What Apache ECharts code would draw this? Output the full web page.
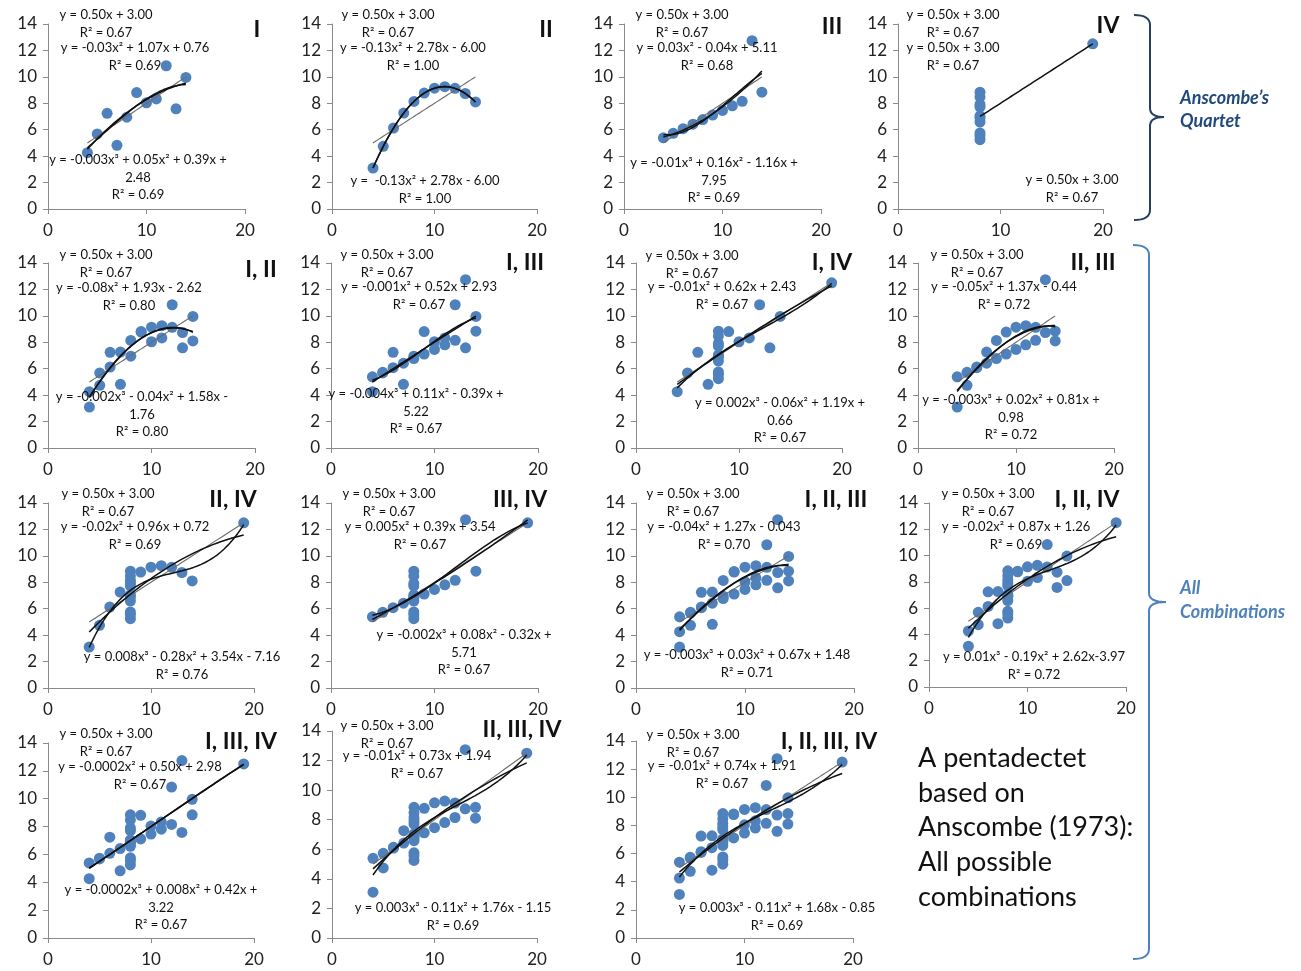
<!DOCTYPE html>
<html>
<head>
<meta charset="utf-8">
<title>A pentadectet based on Anscombe (1973)</title>
<script src="https://cdn.jsdelivr.net/npm/echarts@6.0.0/dist/echarts.min.js"></script>
<style>
  html, body { margin: 0; padding: 0; background: #fff; }
  #main { width: 1301px; height: 971px; }
</style>
</head>
<body>
<div id="main"></div>
<script>
// Anscombe's quartet (x is shared by I, II and III)
const xABC = [10, 8, 13, 9, 11, 14, 6, 4, 12, 7, 5];
const yI = [8.04, 6.95, 7.58, 8.81, 8.33, 9.96, 7.24, 4.26, 10.84, 4.82, 5.68];
const yII = [9.14, 8.14, 8.74, 8.77, 9.26, 8.10, 6.13, 3.10, 9.13, 7.26, 4.74];
const yIII = [7.46, 6.77, 12.74, 7.11, 7.81, 8.84, 6.08, 5.39, 8.15, 6.42, 5.73];
const xIV = [8, 8, 8, 8, 8, 8, 8, 19, 8, 8, 8];
const yIV = [6.58, 5.76, 7.71, 8.84, 8.47, 7.04, 5.25, 12.50, 5.56, 7.91, 6.89];

const quartetX = [xABC, xABC, xABC, xIV];
const quartetY = [yI, yII, yIII, yIV];

// the 15 panels: which sets go in each
const panelNames = ['I', 'II', 'III', 'IV', 'I, II', 'I, III', 'I, IV', 'II, III',
  'II, IV', 'III, IV', 'I, II, III', 'I, II, IV', 'I, III, IV', 'II, III, IV', 'I, II, III, IV'];
const panelSets = [[0], [1], [2], [3], [0, 1], [0, 2], [0, 3], [1, 2],
  [1, 3], [2, 3], [0, 1, 2], [0, 1, 3], [0, 2, 3], [1, 2, 3], [0, 1, 2, 3]];

const xTicks = [0, 10, 20];
const yTicks = [0, 2, 4, 6, 8, 10, 12, 14];

// trendline labels as printed in the chart
const linLabels = Array(15).fill('y = 0.50x + 3.00\nR² = 0.67');
const quadLabels = [
  'y = -0.03x² + 1.07x + 0.76\nR² = 0.69',
  'y = -0.13x² + 2.78x - 6.00\nR² = 1.00',
  'y = 0.03x² - 0.04x + 5.11\nR² = 0.68',
  'y = 0.50x + 3.00\nR² = 0.67',
  'y = -0.08x² + 1.93x - 2.62\nR² = 0.80',
  'y = -0.001x² + 0.52x + 2.93\nR² = 0.67',
  'y = -0.01x² + 0.62x + 2.43\nR² = 0.67',
  'y = -0.05x² + 1.37x - 0.44\nR² = 0.72',
  'y = -0.02x² + 0.96x + 0.72\nR² = 0.69',
  'y = 0.005x² + 0.39x + 3.54\nR² = 0.67',
  'y = -0.04x² + 1.27x - 0.043\nR² = 0.70',
  'y = -0.02x² + 0.87x + 1.26\nR² = 0.69',
  'y = -0.0002x² + 0.50x + 2.98\nR² = 0.67',
  'y = -0.01x² + 0.73x + 1.94\nR² = 0.67',
  'y = -0.01x² + 0.74x + 1.91\nR² = 0.67'
];
const cubLabels = [
  'y = -0.003x³ + 0.05x² + 0.39x +\n2.48\nR² = 0.69',
  'y =  -0.13x² + 2.78x - 6.00\nR² = 1.00',
  'y = -0.01x³ + 0.16x² - 1.16x +\n7.95\nR² = 0.69',
  'y = 0.50x + 3.00\nR² = 0.67',
  'y = -0.002x³ - 0.04x² + 1.58x -\n1.76\nR² = 0.80',
  'y = -0.004x³ + 0.11x² - 0.39x +\n5.22\nR² = 0.67',
  'y = 0.002x³ - 0.06x² + 1.19x +\n0.66\nR² = 0.67',
  'y = -0.003x³ + 0.02x² + 0.81x +\n0.98\nR² = 0.72',
  'y = 0.008x³ - 0.28x² + 3.54x - 7.16\nR² = 0.76',
  'y = -0.002x³ + 0.08x² - 0.32x +\n5.71\nR² = 0.67',
  'y = -0.003x³ + 0.03x² + 0.67x + 1.48\nR² = 0.71',
  'y = 0.01x³ - 0.19x² + 2.62x-3.97\nR² = 0.72',
  'y = -0.0002x³ + 0.008x² + 0.42x +\n3.22\nR² = 0.67',
  'y = 0.003x³ - 0.11x² + 1.76x - 1.15\nR² = 0.69',
  'y = 0.003x³ - 0.11x² + 1.68x - 0.85\nR² = 0.69'
];

// layout: plot box [left, right, top, bottom] in px
const boxes = [
  [48, 245, 24, 209], [332, 537, 24, 209], [624, 821, 24, 209], [898, 1103, 24, 209],
  [48, 255, 263, 448], [331, 538, 263, 448], [636, 842, 263, 448], [918, 1114, 263, 448],
  [48, 254, 503, 688], [331, 538, 503, 688], [636, 854, 503, 688], [929, 1126, 503, 687],
  [48, 254, 743, 938], [332, 537, 731, 938], [636, 853, 741, 938]
];
// label anchors: [linX, linY, quadX, quadY, cubX, cubY, titleX, titleY] (first line centre)
const labelPos = [
  [106, 15, 135, 48, 138, 160, 257, 30],
  [388, 15, 413, 48, 425, 181, 546, 30],
  [682, 15, 707, 48, 714, 163, 832, 27],
  [953, 15, 953, 48, 1072, 180, 1108, 26],
  [106, 255, 129, 288, 142, 397, 261, 270],
  [387, 255, 419, 287, 416, 394, 525, 263],
  [692, 256, 722, 287, 780, 403, 832, 263],
  [977, 255, 1004, 287, 1011, 400, 1093, 263],
  [108, 494, 135, 527, 182, 657, 233, 500],
  [389, 494, 420, 527, 464, 635, 520, 500],
  [693, 494, 724, 527, 747, 655, 836, 500],
  [988, 494, 1016, 527, 1034, 657, 1087, 500],
  [106, 734, 140, 767, 161, 890, 241, 742],
  [387, 726, 417, 756, 453, 908, 522, 730],
  [693, 735, 722, 766, 777, 908, 829, 742]
];

const FONT = 'Lato, "Open Sans", sans-serif';

// least-squares polynomial fit (what Excel's trendline does)
function polyFit(xs, ys, deg) {
  const n = deg + 1;
  const A = [], b = [];
  for (let i = 0; i < n; i++) {
    A.push([]);
    for (let j = 0; j < n; j++) {
      let s = 0;
      xs.forEach(x => { s += Math.pow(x, i + j); });
      A[i].push(s);
    }
    let t = 0;
    xs.forEach((x, k) => { t += ys[k] * Math.pow(x, i); });
    b.push(t);
  }
  for (let c = 0; c < n; c++) {
    let p = c;
    for (let r = c + 1; r < n; r++) if (Math.abs(A[r][c]) > Math.abs(A[p][c])) p = r;
    [A[c], A[p]] = [A[p], A[c]];
    [b[c], b[p]] = [b[p], b[c]];
    for (let r = c + 1; r < n; r++) {
      const f = A[r][c] / A[c][c];
      for (let k = c; k < n; k++) A[r][k] -= f * A[c][k];
      b[r] -= f * b[c];
    }
  }
  const coef = Array(n).fill(0);
  for (let r = n - 1; r >= 0; r--) {
    let s = b[r];
    for (let k = r + 1; k < n; k++) s -= A[r][k] * coef[k];
    coef[r] = s / A[r][r];
  }
  return coef;
}

function trend(xs, ys, deg) {
  const c = polyFit(xs, ys, deg);
  const lo = Math.min(...xs), hi = Math.max(...xs);
  const pts = [];
  for (let i = 0; i <= 80; i++) {
    const x = lo + (hi - lo) * i / 80;
    let y = 0;
    c.forEach((v, k) => { y += v * Math.pow(x, k); });
    pts.push([x, y]);
  }
  return pts;
}

const grids = [], xAxes = [], yAxes = [], series = [], graphics = [];

panelSets.forEach((sets, i) => {
  const [l, r, t, b] = boxes[i];
  grids.push({ left: l, top: t, width: r - l, height: b - t });
  const axisCommon = {
    gridIndex: i,
    splitLine: { show: false },
    axisLine: { show: true, lineStyle: { color: '#8a8a8a', width: 1 } },
    axisTick: { show: true, length: 5, lineStyle: { color: '#8a8a8a' } },
    axisLabel: { color: '#222', fontSize: 17, fontFamily: FONT }
  };
  xAxes.push(Object.assign({}, axisCommon, {
    type: 'value', min: xTicks[0], max: xTicks[xTicks.length - 1], interval: 10,
    axisLabel: Object.assign({}, axisCommon.axisLabel, { margin: 13 })
  }));
  yAxes.push(Object.assign({}, axisCommon, {
    type: 'value', min: yTicks[0], max: yTicks[yTicks.length - 1], interval: 2,
    axisLabel: Object.assign({}, axisCommon.axisLabel, { margin: 11 })
  }));

  const xs = [], ys = [], pts = [];
  sets.forEach(s => {
    quartetX[s].forEach((x, k) => {
      xs.push(x); ys.push(quartetY[s][k]); pts.push([x, quartetY[s][k]]);
    });
  });

  series.push({
    type: 'scatter', xAxisIndex: i, yAxisIndex: i, data: pts,
    symbolSize: 11, itemStyle: { color: '#4f81bd', opacity: 1 }, z: 2
  });
  // IV alone only has two distinct x values, so all three fits are the same straight line
  const onlyIV = sets.length === 1 && sets[0] === 3;
  const degs = onlyIV ? [1] : [1, 2, 3];
  degs.forEach(d => {
    const dark = d > 1 || onlyIV;
    series.push({
      type: 'line', xAxisIndex: i, yAxisIndex: i, data: trend(xs, ys, d),
      showSymbol: false, smooth: false, silent: true, z: 3,
      lineStyle: { color: dark ? '#111' : '#6b6b6b', width: dark ? 1.5 : 1.1 }
    });
  });

  const p = labelPos[i];
  const txt = (text, x, y) => ({
    type: 'text', z: 10, silent: true,
    style: {
      text: text, x: x, y: y - 8.75, align: 'center', verticalAlign: 'top',
      fontSize: 13, lineHeight: 17.5, fontFamily: FONT, fill: '#111'
    }
  });
  graphics.push(txt(linLabels[i], p[0], p[1]));
  graphics.push(txt(quadLabels[i], p[2], p[3]));
  graphics.push(txt(cubLabels[i], p[4], p[5]));
  graphics.push({
    type: 'text', z: 10, silent: true,
    style: {
      text: panelNames[i], x: p[6], y: p[7], align: 'center', verticalAlign: 'middle',
      fontSize: 23, fontWeight: 'bold', fontFamily: FONT, fill: '#111'
    }
  });
});

// curly brace as a polyline (quadratic corners)
function brace(x, top, mid, bottom, tipX, endX) {
  const pts = [];
  const quad = (p0, c, p1) => {
    for (let k = 0; k <= 8; k++) {
      const t = k / 8;
      pts.push([
        (1 - t) * (1 - t) * p0[0] + 2 * (1 - t) * t * c[0] + t * t * p1[0],
        (1 - t) * (1 - t) * p0[1] + 2 * (1 - t) * t * c[1] + t * t * p1[1]
      ]);
    }
  };
  quad([endX, top], [x, top], [x, top + 10]);
  quad([x, mid - 9], [x, mid], [tipX, mid]);
  quad([tipX, mid], [x, mid], [x, mid + 9]);
  quad([x, bottom - 10], [x, bottom], [endX, bottom]);
  return pts;
}

graphics.push({
  type: 'polyline', z: 10, silent: true,
  shape: { points: brace(1150, 15, 117, 220, 1164, 1134) },
  style: { fill: null, stroke: '#243f60', lineWidth: 2 }
});
graphics.push({
  type: 'polyline', z: 10, silent: true,
  shape: { points: brace(1149, 245, 602, 959, 1166, 1133) },
  style: { fill: null, stroke: '#4f81bd', lineWidth: 2 }
});
graphics.push({
  type: 'text', z: 10, silent: true,
  style: {
    text: 'Anscombe’s\nQuartet', x: 1180, y: 87, align: 'left', verticalAlign: 'top',
    fontSize: 18, lineHeight: 23, fontStyle: 'italic', fontWeight: 'bold', fontFamily: FONT, fill: '#1f497d'
  }
});
graphics.push({
  type: 'text', z: 10, silent: true,
  style: {
    text: 'All\nCombinations', x: 1180, y: 576, align: 'left', verticalAlign: 'top',
    fontSize: 18, lineHeight: 24, fontStyle: 'italic', fontWeight: 'bold', fontFamily: FONT, fill: '#4f81bd'
  }
});
graphics.push({
  type: 'text', z: 10, silent: true,
  style: {
    text: 'A pentadectet\nbased on\nAnscombe (1973):\nAll possible\ncombinations',
    x: 918, y: 741, align: 'left', verticalAlign: 'top',
    fontSize: 27, lineHeight: 34.7, fontFamily: FONT, fill: '#111'
  }
});

const chart = echarts.init(document.getElementById('main'));
chart.setOption({
  animation: false,
  backgroundColor: '#fff',
  grid: grids,
  xAxis: xAxes,
  yAxis: yAxes,
  series: series,
  graphic: graphics
});
</script>
</body>
</html>
